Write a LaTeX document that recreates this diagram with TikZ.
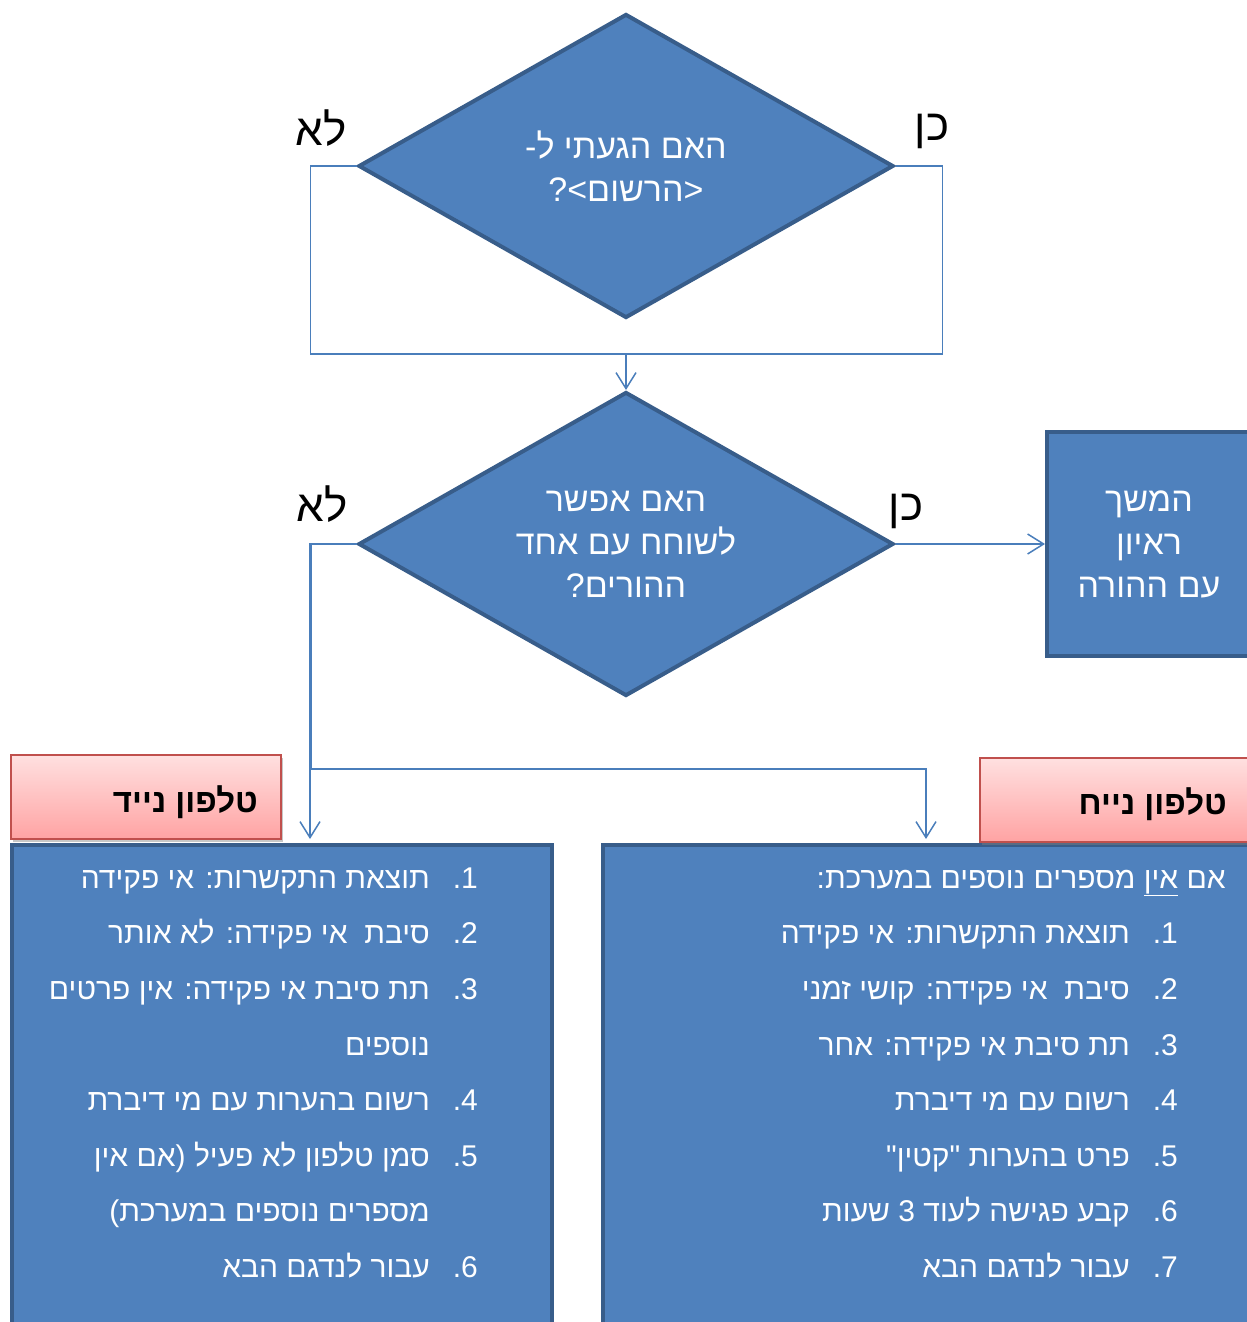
\documentclass[tikz,border=0pt]{standalone}
\usepackage{fontspec}
\newfontfamily\heb[Script=Hebrew]{Liberation Sans}
\TeXXeTstate=1
\usetikzlibrary{shapes.geometric}
\usetikzlibrary{arrows.meta}
\usetikzlibrary{shadows}

\definecolor{boxblue}{RGB}{79,129,189}
\definecolor{edgeblue}{RGB}{56,93,138}
\definecolor{wireblue}{RGB}{74,126,187}
\definecolor{pinktop}{RGB}{255,224,224}
\definecolor{pinkbot}{RGB}{255,163,163}
\definecolor{pinkedge}{RGB}{192,80,77}

\newcommand{\rtltext}[1]{\beginR#1\endR}

\begin{document}
\begin{tikzpicture}[
        x=1pt, y=-1pt,
        >={Straight Barb[length=16pt,width=20pt]},
        decision/.style={diamond, draw=edgeblue, fill=boxblue, line width=4pt,
                         shape aspect=1.76, minimum width=535pt, minimum height=304pt,
                         inner sep=0pt, text=white, align=center,
                         font=\heb\fontsize{34}{43}\selectfont},
        procbox/.style={draw=edgeblue, fill=boxblue, line width=4pt,
                        minimum width=204pt, minimum height=224pt,
                        text=white, align=center,
                        font=\heb\fontsize{34}{43}\selectfont},
        listbox/.style={draw=edgeblue, fill=boxblue, line width=4pt, anchor=north west},
        hdr/.style={draw=pinkedge, line width=2pt, top color=pinktop, bottom color=pinkbot,
                    minimum height=84pt, anchor=north west,
                    drop shadow={shadow xshift=2pt, shadow yshift=-3pt, opacity=0.45}},
        hdrtext/.style={anchor=base east, inner sep=0pt, font=\heb\bfseries\fontsize{33}{38}\selectfont},
        answer/.style={anchor=base, inner sep=0pt, font=\heb\fontsize{44}{50}\selectfont},
        item/.style={anchor=base east, inner sep=0pt, text=white,
                     font=\heb\fontsize{30}{36}\selectfont},
        conn/.style={draw=wireblue, line width=1.5pt},
    ]
    \useasboundingbox (0,0) rectangle (1247,1322);
    \clip (0,0) rectangle (1247,1322);

    % questions
    \node[decision] (q1) at (626,166) {\rtltext{האם הגעתי ל-}\\\rtltext{<הרשום>?}};
    \node[decision] (q2) at (626,544) {\rtltext{האם אפשר}\\\rtltext{לשוחח עם אחד}\\\rtltext{ההורים?}};
    \node[procbox] (cont) at (1149,544) {\rtltext{המשך}\\\rtltext{ראיון}\\\rtltext{עם ההורה}};

    \node[answer] (no1) at (321,145) {\rtltext{לא}};
    \node[answer] (yes1) at (932,140) {\rtltext{כן}};
    \node[answer] (no2) at (322,521) {\rtltext{לא}};
    \node[answer] (yes2) at (906,520) {\rtltext{כן}};

    % lists
    \node[listbox, minimum width=540pt, minimum height=520pt] (mobilebox) at (10,843) {};
    \node[listbox, minimum width=680pt, minimum height=520pt] (fixedbox) at (601,843) {};

    \node[hdr, minimum width=270pt] (mobilehdr) at (10,754) {};
    \node[hdr, minimum width=300pt] (fixedhdr) at (979,757) {};
    \node[hdrtext] (mobilelbl) at (258,812) {\rtltext{טלפון נייד}};
    \node[hdrtext] (fixedlbl) at (1227,814) {\rtltext{טלפון נייח}};

    \foreach \n/\y in {1/888, 2/943, 3/999, 4/1110, 5/1166, 6/1277}
        \node[item] (mn\n) at (478,\y) {\n.};
    \foreach \t/\y [count=\i] in {
            {תוצאת התקשרות: אי פקידה}/888,
            {סיבת~~אי פקידה: לא אותר}/943,
            {תת סיבת אי פקידה: אין פרטים}/999,
            {נוספים}/1055,
            {רשום בהערות עם מי דיברת}/1110,
            {סמן טלפון לא פעיל (אם אין}/1166,
            {מספרים נוספים במערכת)}/1221,
            {עבור לנדגם הבא}/1277}
        \node[item] (mt\i) at (430,\y) {\rtltext{\t}};

    \node[item] (fixedintro) at (1226,888) {\rtltext{אם \underline{אין} מספרים נוספים במערכת:}};
    \foreach \n/\y in {1/943, 2/999, 3/1055, 4/1110, 5/1166, 6/1221, 7/1277}
        \node[item] (fn\n) at (1178,\y) {\n.};
    \foreach \t/\y [count=\i] in {
            {תוצאת התקשרות: אי פקידה}/943,
            {סיבת~~אי פקידה: קושי זמני}/999,
            {תת סיבת אי פקידה: אחר}/1055,
            {רשום עם מי דיברת}/1110,
            {פרט בהערות "קטין"}/1166,
            {קבע פגישה לעוד 3 שעות}/1221,
            {עבור לנדגם הבא}/1277}
        \node[item] (ft\i) at (1130,\y) {\rtltext{\t}};

    % connectors
    \coordinate (merge) at (626,354);
    \coordinate (mobin) at (310,839);
    \coordinate (fixbend) at (926,769);
    \coordinate (fixin) at (926,839);

    \draw[conn] (q1.west) -- ++(-46,0) |- (merge);
    \draw[conn] (q1.east) -- ++(47,0) |- (merge);
    \draw[conn,->] (merge) -- (q2.north);
    \draw[conn,->] (q2.east) -- (cont.west);
    \draw[conn,->] (q2.west) -| (mobin);
    \draw[conn,->] (q2.west) -- ++(-45,0) |- (fixbend) -- (fixin);

\end{tikzpicture}
\end{document}
